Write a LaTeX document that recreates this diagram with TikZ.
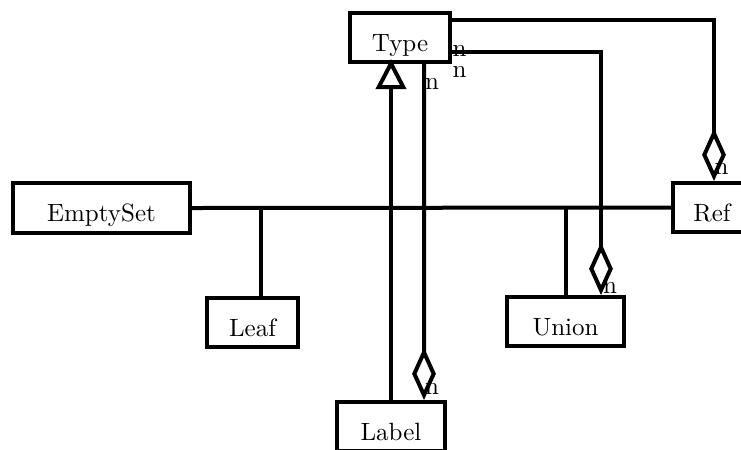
\documentclass[tikz,border=0pt]{standalone}
\usetikzlibrary{arrows.meta, positioning}

\tikzset{
  cls/.style={draw, line width=1.6pt, fill=white, inner sep=0pt, minimum height=19.6pt, text height=14pt, text depth=3pt},
  gen/.style={line width=1.6pt, -{Triangle[open, length=12pt, width=12pt]}},
  agg/.style={line width=1.6pt, -{Diamond[open, length=21pt, width=9.5pt]}},
  mult/.style={inner sep=0pt},
}

\begin{document}
\begin{tikzpicture}[x=0.4pt, y=-0.4pt, line width=1.6pt]
			\useasboundingbox (0,0) rectangle (741,449);
			\draw (400,37.5) node[cls, minimum width=40pt] (type) {Type}
			(101.5,208) node[cls, minimum width=70.8pt, minimum height=20pt] (emptyset) {EmptySet}
			(252.5,322.5) node[cls, minimum width=36.4pt] (leaf) {Leaf}
			(565.5,321.5) node[cls, minimum width=46.8pt] (union) {Union}
			(391,426.5) node[cls, minimum width=43.2pt] (label) {Label}
			(712,207.5) node[cls, minimum width=31.2pt] (ref) {Ref};
			
			% generalisation to Type
			\coordinate (gentip) at ([yshift=2pt]label.north |- type.south);
			\draw[gen] (label.north) -- (gentip);
			\draw (emptyset.east) -- (ref.west);
			\coordinate (leaftop) at ([xshift=3.4pt]leaf.north);
			\draw (leaftop) -- (leaftop |- emptyset.east);
			\draw (union.north) -- (union.north |- ref.west);
			
			% aggregations
			\coordinate (reftop) at ([xshift=0.8pt]ref.north);
			\coordinate (uniontop) at ([xshift=14.2pt]union.north);
			\coordinate (labeltop) at ([xshift=13.2pt]label.north);
			\draw[agg] ([yshift=7pt]type.east) -| (reftop);
			\draw[agg] ([yshift=-5.8pt]type.east) -| (uniontop);
			\draw[agg] ([xshift=9.6pt]type.south) -- (labeltop);
			
			\node[mult] (m1) at (459.5,51) {n};
			\node[mult] (m2) at (459.5,72) {n};
			\node[mult] (m3) at (432,84) {n};
			\node[mult] (m4) at (721.5,168.5) {n};
			\node[mult] (m5) at (610,287.5) {n};
			\node[mult] (m6) at (432,389) {n};
		\end{tikzpicture}
\end{document}
